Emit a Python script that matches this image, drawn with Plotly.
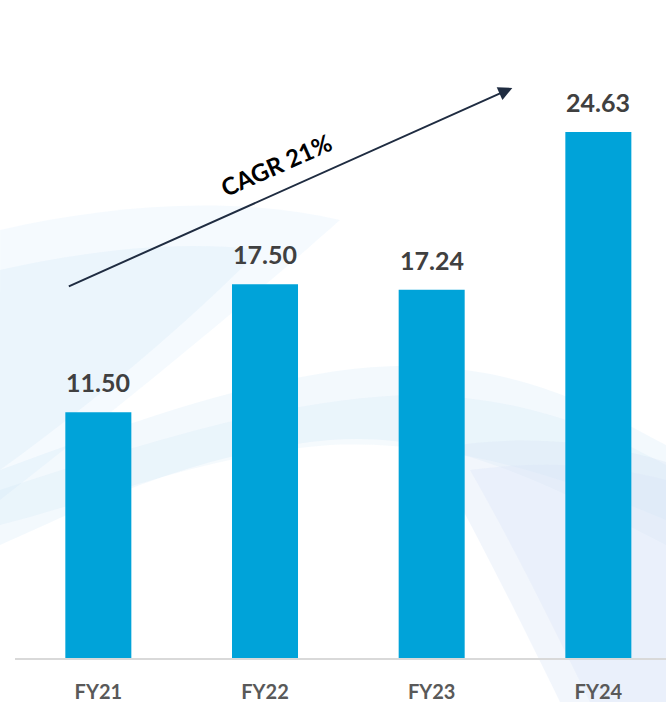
import plotly.graph_objects as go

categories = ["FY21", "FY22", "FY23", "FY24"]
values = [11.50, 17.50, 17.24, 24.63]
value_labels = ["11.50", "17.50", "17.24", "24.63"]
cagr_label = "CAGR 21%"

W, H = 666, 702
ML, MR, MT, MB = 15, 0, 0, 44
PW, PH = W - ML - MR, H - MT - MB

BAR_COLOR = "#00A3D9"
FONT = "Lato"

fig = go.Figure()
fig.add_trace(go.Bar(
    x=categories, y=values, width=0.396,
    marker=dict(color=BAR_COLOR, line=dict(width=0)),
    hoverinfo="skip",
))

# background decorative waves (pixel coords -> paper coords)
def px(x, y):
    return (x - ML) / PW, (H - MB - y) / PH

def path(cmds):
    out = []
    for c in cmds:
        if isinstance(c, str):
            out.append(c)
        else:
            xx, yy = px(*c)
            out.append(f"{xx:.4f},{yy:.4f}")
    return " ".join(out)

def wave(cmds, color):
    return dict(type="path", xref="paper", yref="paper", layer="below",
                line=dict(width=0), fillcolor=color, path=path(cmds))

shapes = [
    # soft left wash
    wave(["M", (0, 230), "C", (110, 205), (230, 195), (340, 220),
          "C", (250, 300), (140, 390), (0, 500), "Z"], "rgba(200,228,247,0.18)"),
    wave(["M", (0, 270), "C", (90, 250), (180, 240), (260, 250),
          "C", (190, 320), (110, 390), (0, 470), "Z"], "rgba(200,228,247,0.22)"),
    # middle band
    wave(["M", (0, 470), "C", (150, 415), (300, 362), (420, 366),
          "C", (530, 370), (600, 410), (666, 445),
          "L", (666, 545), "C", (560, 490), (450, 430), (330, 440),
          "C", (200, 452), (100, 500), (0, 545), "Z"], "rgba(190,222,244,0.18)"),
    wave(["M", (0, 490), "C", (150, 440), (300, 395), (420, 395),
          "C", (530, 398), (600, 430), (666, 465),
          "L", (666, 520), "C", (560, 475), (450, 440), (330, 445),
          "C", (200, 455), (100, 500), (0, 525), "Z"], "rgba(190,222,244,0.15)"),
    # bottom-right wash
    wave(["M", (430, 450), "C", (520, 432), (600, 442), (666, 462),
          "L", (666, 702), "L", (560, 702),
          "C", (520, 620), (470, 520), (430, 450), "Z"], "rgba(214,228,247,0.32)"),
    wave(["M", (470, 470), "C", (540, 460), (610, 465), (666, 480),
          "L", (666, 702), "L", (590, 702),
          "C", (550, 620), (510, 540), (470, 470), "Z"], "rgba(214,228,247,0.28)"),
]

annotations = []
for c, v, t in zip(categories, values, value_labels):
    annotations.append(dict(x=c, y=v, xref="x", yref="y", text=t, showarrow=False,
                            yanchor="bottom", yshift=13,
                            font=dict(family=FONT, size=25, color="#404040", weight="bold")))

# CAGR arrow
annotations.append(dict(x=2.484, y=26.69, xref="x", yref="y",
                        ax=-0.186, ay=17.37, axref="x", ayref="y",
                        text="", showarrow=True, arrowhead=2, arrowsize=1.4,
                        arrowwidth=2, arrowcolor="#1F2C41", standoff=0, startstandoff=0))
annotations.append(dict(x=1.068, y=23.1, xref="x", yref="y", text=cagr_label,
                        showarrow=False, textangle=-24,
                        font=dict(family=FONT, size=24, color="#000000", weight="bold")))

fig.update_layout(
    template="none",
    width=W, height=H,
    margin=dict(l=ML, r=MR, t=MT, b=MB, pad=0, autoexpand=False),
    paper_bgcolor="white", plot_bgcolor="rgba(0,0,0,0)",
    showlegend=False,
    shapes=shapes, annotations=annotations,
    xaxis=dict(type="category", range=[-0.5, PW / 166.67 - 0.5], automargin=False,
               showline=True, linecolor="#D9D9D9", linewidth=2,
               showgrid=False, zeroline=False, ticks="",
               ticklabelstandoff=15,
               tickfont=dict(family=FONT, size=20, color="#595959", weight="bold"),
               fixedrange=True),
    yaxis=dict(range=[0, PH / 21.36], visible=False, showgrid=False, zeroline=False,
               automargin=False, fixedrange=True),
)

fig.write_html(
    "out.html",
    config={"displayModeBar": False, "staticPlot": True},
    post_script="document.body.style.margin='0';document.body.style.padding='0';",
)
